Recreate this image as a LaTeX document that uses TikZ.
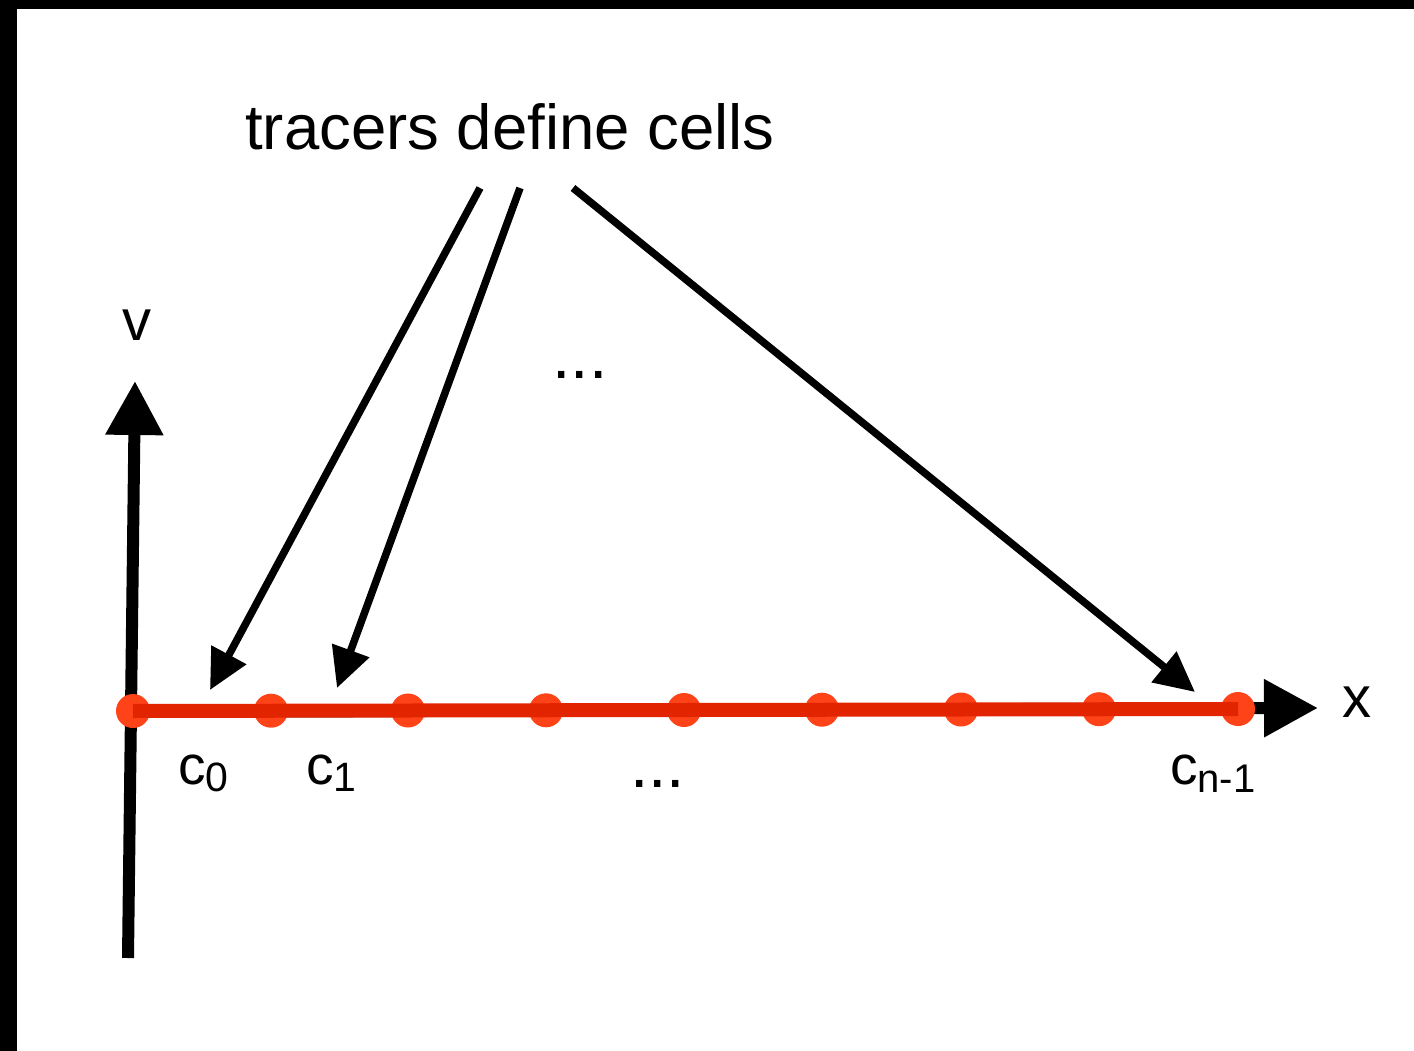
\documentclass[tikz,border=0pt]{standalone}
\usepackage{fontspec}
\setmainfont{Liberation Sans}
\usetikzlibrary{arrows.meta}
\definecolor{redline}{HTML}{E22500}
\definecolor{reddot}{HTML}{FF4318}
\begin{document}
\begin{tikzpicture}[x=1pt,y=-1pt,
  axis/.style={line width=12pt, black, -{Triangle[length=54pt,width=55pt]}},
  ptr/.style={line width=7.5pt, black, -{Triangle[length=40pt,width=38pt]}},
  celldot/.style={circle, fill=reddot, minimum size=34pt, inner sep=0pt},
  big/.style={font=\fontsize{63.5}{70}\selectfont},
  axlbl/.style={font=\fontsize{58}{64}\selectfont, anchor=base},
  cell/.style={font=\fontsize{55}{60}\selectfont, anchor=base west, inner sep=0pt},
  dots/.style={font=\fontsize{66}{70}\selectfont, anchor=base, inner sep=0pt}]
\useasboundingbox (0,0) rectangle (1414,1051);
\fill[black] (0,0) rectangle (17,1051);
\fill[black] (0,0) rectangle (1414,9);
% axes
\coordinate (vbot) at (128,958);
\coordinate (vtop) at (135,381);
\coordinate (xl) at (128,712);
\coordinate (xr) at (1318,708);
\draw[axis] (vbot) -- (vtop);
\draw[axis] (xl) -- (xr);
\node[axlbl] (vlab) at (137,340) {v};
\node[axlbl] (xlab) at (1357,717) {x};
% cells
\foreach \i/\x/\y in {0/133/711,1/271/710.7,2/408/710.5,3/546/710.3,4/684/710,5/822/709.7,6/961/709.5,7/1099/709.2,8/1238/709}
  \node[celldot] (d\i) at (\x,\y) {};
\draw[line width=14pt, redline] (d0.center) -- (d8.center);
% labels
\node[cell] (c0) at (178,784) {c\raisebox{-7pt}{\fontsize{41}{44}\selectfont 0}};
\node[cell] (c1) at (306,784) {c\raisebox{-7pt}{\fontsize{41}{44}\selectfont 1}};
\node[cell] (cn) at (1170,784) {c\raisebox{-8pt}{\fontsize{40}{44}\selectfont n-1}};
\node[dots] (dtop) at (580,378) {...};
\node[dots] (dbot) at (657.5,787) {...};
% title and pointers
\node[big, anchor=base] (title) at (510,150) {tracers define cells};
\coordinate (s1) at (480,188);
\coordinate (s2) at (520,188);
\coordinate (s3) at (573,188);
\coordinate (t1) at (210,690);
\coordinate (t2) at (337,688);
\coordinate (t3) at (1195,692);
\draw[ptr] (s1) -- (t1);
\draw[ptr] (s2) -- (t2);
\draw[ptr] (s3) -- (t3);
\end{tikzpicture}
\end{document}
